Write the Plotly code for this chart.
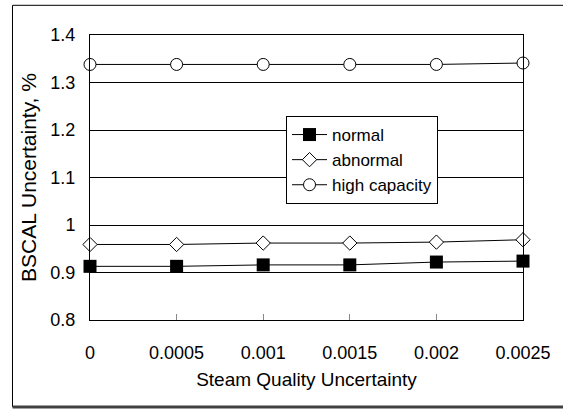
import plotly.graph_objects as go

x_vals = [0, 0.0005, 0.001, 0.0015, 0.002, 0.0025]
x_labels = ["0", "0.0005", "0.001", "0.0015", "0.002", "0.0025"]
normal = [0.913, 0.913, 0.916, 0.916, 0.922, 0.924]
abnormal = [0.959, 0.959, 0.962, 0.962, 0.964, 0.969]
high_capacity = [1.338, 1.338, 1.338, 1.338, 1.338, 1.341]
y_ticks = [0.8, 0.9, 1.0, 1.1, 1.2, 1.3, 1.4]
y_labels = ["0.8", "0.9", "1", "1.1", "1.2", "1.3", "1.4"]

FONT = "Arial, Liberation Sans, sans-serif"

fig = go.Figure()
fig.add_trace(go.Scatter(
    x=x_vals, y=normal, name="normal", mode="lines+markers",
    line=dict(color="black", width=1),
    marker=dict(symbol="square", size=13, color="black"),
    cliponaxis=False))
fig.add_trace(go.Scatter(
    x=x_vals, y=abnormal, name="abnormal", mode="lines+markers",
    line=dict(color="black", width=1),
    marker=dict(symbol="diamond", size=11, color="white",
                line=dict(color="black", width=1)),
    cliponaxis=False))
fig.add_trace(go.Scatter(
    x=x_vals, y=high_capacity, name="high capacity", mode="lines+markers",
    line=dict(color="black", width=1),
    marker=dict(symbol="circle", size=12, color="white",
                line=dict(color="black", width=1)),
    cliponaxis=False))

fig.update_layout(
    width=563, height=410,
    margin=dict(l=90, r=40, t=35, b=90),
    paper_bgcolor="white", plot_bgcolor="white",
    font=dict(family=FONT, size=18, color="black"),
    showlegend=True,
    legend=dict(x=0.4527, y=0.7158, xanchor="left", yanchor="top",
                bordercolor="black", borderwidth=1, bgcolor="white",
                font=dict(size=17), tracegroupgap=0,
                itemwidth=35),
    xaxis=dict(range=[0, 0.0025], tickvals=x_vals, ticktext=x_labels,
               showgrid=False, zeroline=False,
               showline=True, linecolor="black", linewidth=1, mirror=True,
               ticks="inside", ticklen=6, tickcolor="#888888",
               ticklabelstandoff=16,
               tickfont=dict(size=18),
               title=dict(text="Steam Quality Uncertainty", font=dict(size=19),
                          standoff=11)),
    yaxis=dict(range=[0.8, 1.4], tickvals=y_ticks, ticktext=y_labels,
               showgrid=True, gridcolor="black", gridwidth=1,
               zeroline=False,
               showline=True, linecolor="black", linewidth=1, mirror=True,
               ticks="", ticklabelstandoff=10,
               tickfont=dict(size=18),
               title=dict(text="BSCAL Uncertainty, %", font=dict(size=21),
                          standoff=8)),
)

# outer frame of the picture
fig.add_shape(type="line", xref="paper", yref="paper",
              x0=-0.179, x1=1.2, y0=1.1042, y1=1.1042,
              line=dict(color="black", width=1))
fig.add_shape(type="line", xref="paper", yref="paper",
              x0=-0.179, x1=-0.179, y0=1.1042, y1=-0.305,
              line=dict(color="black", width=1))
fig.add_shape(type="line", xref="paper", yref="paper",
              x0=-0.179, x1=1.2, y0=-0.305, y1=-0.305,
              line=dict(color="#404040", width=3))

fig.write_html("out.html")
